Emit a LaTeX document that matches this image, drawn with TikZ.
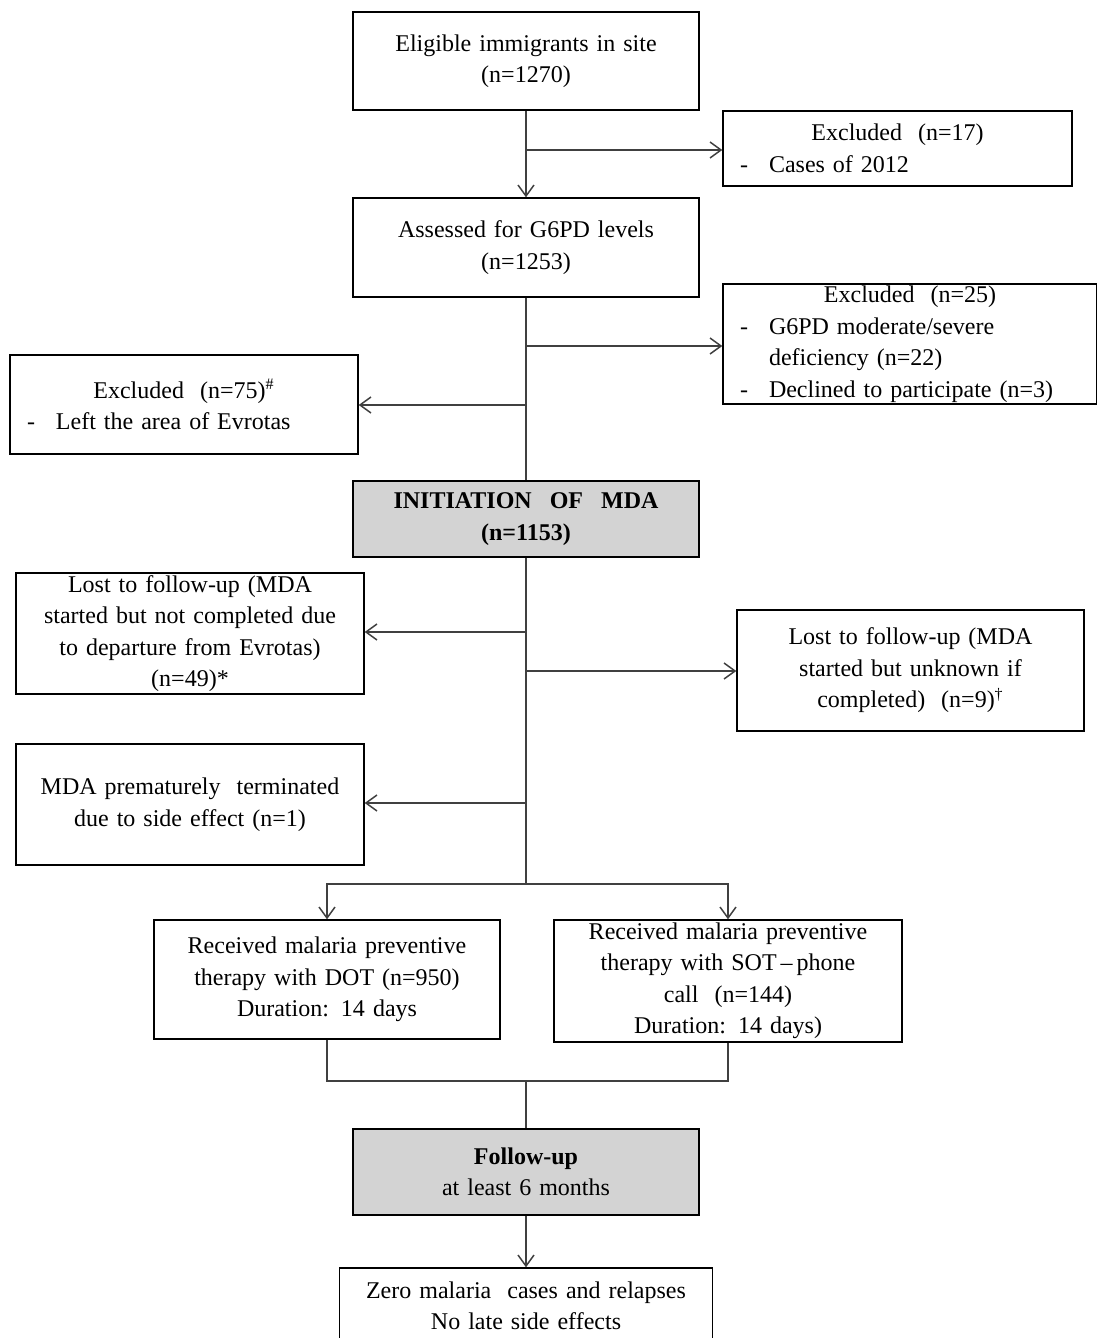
\documentclass[tikz,border=0pt]{standalone}
\usepackage{fontspec}
\setmainfont{Liberation Serif}
\usepackage{xcolor}
\usepackage{tikz}
\usetikzlibrary{arrows.meta}

\definecolor{linha}{HTML}{404040}
\definecolor{cinza}{HTML}{D3D3D3}
\newcommand{\letra}{\fontsize{12}{15.75}\selectfont\fontdimen2\font=5pt\relax}
\newcommand{\esq}[1]{\makebox[\hsize][l]{#1}}
\newcommand{\traco}{\hspace*{3.5pt}\makebox[14.5pt][l]{-}}
\newcommand{\recuo}{\hspace*{18pt}}

\begin{document}
\begin{tikzpicture}[
		x=0.5pt, y=-0.5pt,
		every node/.style={draw=black, line width=0.7pt, align=center, inner xsep=5pt, inner ysep=0pt, font=\letra},
		seta/.style={draw=linha, line width=0.75pt, -{Straight Barb[length=5.5pt,width=8pt]}},
		linha/.style={draw=linha, line width=0.75pt}
	]
	\tikzset{
	    caixa/.style={text width=163pt},
	    cinzenta/.style={caixa, fill=cinza}
	}
	\useasboundingbox (0,0) rectangle (1097,1338);
	\node[caixa, minimum height=49pt] (elegiveis) at (526,61) {Eligible immigrants in site\\(n=1270)};
	\node[text width=164.5pt, minimum height=37.5pt] (excl17) at (897.5,148.5)
		{Excluded\ \ (n=17)\\\esq{\traco Cases of 2012}};
	\node[caixa, minimum height=49.5pt] (avaliados) at (526,247.5) {Assessed for G6PD levels\\(n=1253)};
	\node[text width=177pt, minimum height=60pt] (excl25) at (910,344)
		{Excluded\ \ (n=25)\\\esq{\traco G6PD moderate/severe}\\\esq{\recuo deficiency (n=22)}\\\esq{\traco Declined to participate (n=3)}};
	\node[text width=164pt, minimum height=49.5pt] (excl75) at (184,404.5)
		{Excluded\ \ (n=75)\textsuperscript{\#}\\\esq{\traco Left the area of Evrotas}};
	\node[cinzenta, minimum height=38pt, font=\letra\bfseries] (inicio) at (526,519) {INITIATION\hspace{9pt}OF\hspace{9pt}MDA\\(n=1153)};
	\node[text width=164pt, minimum height=60.5pt] (perdidos49) at (190,633.5)
		{Lost to follow-up (MDA\\started but not completed due\\to departure from Evrotas)\\(n=49)*};
	\node[text width=163.5pt, minimum height=60.5pt] (perdidos9) at (910.5,670.5)
		{Lost to follow-up (MDA\\started but unknown if\\completed)\ \ (n=9)\textsuperscript{\dag}};
	\node[text width=164pt, minimum height=60.5pt] (terminado) at (190,804.5)
		{MDA prematurely\ \ terminated\\due to side effect (n=1)};
	\node[caixa, minimum height=59.5pt] (dot) at (327,979.5)
		{Received malaria preventive\\therapy with DOT (n=950)\\Duration: 14 days};
	\node[text width=164pt, minimum height=61pt] (sot) at (728,981)
		{Received malaria preventive\\therapy with SOT\,--\,phone\\call\ \ (n=144)\\Duration: 14 days)};
	\node[cinzenta, minimum height=43pt] (seguimento) at (526,1172) {\textbf{Follow-up}\\at least 6 months};
	\node[text width=176.5pt, minimum height=38pt] (zero) at (526,1306)
		{Zero malaria\ \ cases and relapses\\No late side effects};
	\coordinate (r1) at (526,150);
	\coordinate (r2) at (526,346);
	\coordinate (r3) at (526,405);
	\coordinate (r4) at (526,632);
	\coordinate (r5) at (526,671);
	\coordinate (r6) at (526,803);
	\coordinate (j1) at (526,884);
	\coordinate (j2) at (526,1081);
	\draw[seta] (elegiveis) -- (avaliados);
	\draw[seta] (r1) -- (r1 -| excl17.west);
	\draw[linha] (avaliados) -- (inicio);
	\draw[seta] (r2) -- (r2 -| excl25.west);
	\draw[seta] (r3) -- (r3 -| excl75.east);
	\draw[linha] (inicio) -- (j1);
	\draw[seta] (r4) -- (r4 -| perdidos49.east);
	\draw[seta] (r5) -- (r5 -| perdidos9.west);
	\draw[seta] (r6) -- (r6 -| terminado.east);
	\draw[seta] (j1) -| (dot);
	\draw[seta] (j1) -| (sot);
	\draw[linha] (dot) |- (j2) -| (sot);
	\draw[linha] (j2) -- (seguimento);
	\draw[seta] (seguimento) -- (zero);
\end{tikzpicture}
\end{document}
